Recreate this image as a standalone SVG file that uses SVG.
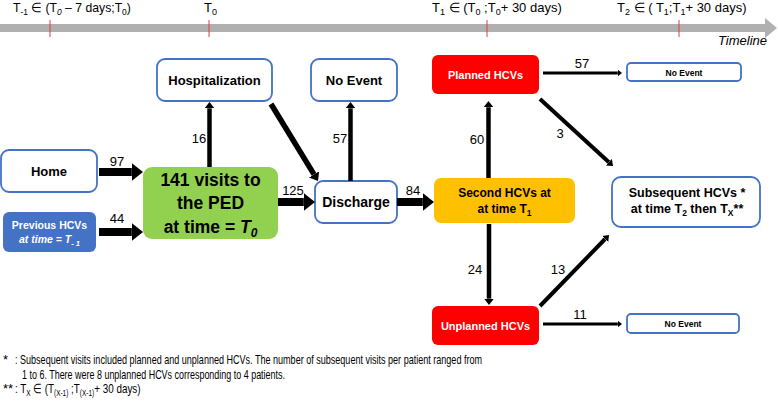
<svg xmlns="http://www.w3.org/2000/svg" width="778" height="410" viewBox="0 0 778 410">
<style>
text{font-family:"Liberation Sans",Arial,sans-serif;fill:#000}
.b{font-weight:bold}
.lbl{font-size:13px;text-anchor:middle}
.tl{font-size:13px}
.fn{font-size:13px}
.wn{fill:#fff;stroke:#4472c4;stroke-width:1.8}
.c{stroke:#000;fill:none}
.tick{stroke:#e03c3c;stroke-width:1}
.w{fill:#fff}
</style>
<defs>
<marker id="ah" viewBox="0 0 10 10" refX="0" refY="5" markerWidth="1.4" markerHeight="2.2" orient="auto" markerUnits="strokeWidth" preserveAspectRatio="none">
<path d="M0,0 L10,5 L0,10 Z" fill="#000"/>
</marker>
</defs>
<rect width="778" height="410" fill="#fff"/>
<!-- timeline -->
<g id="timeline">
<rect x="0" y="24" width="766" height="8" fill="#b0b0b0"/>
<polygon points="765,18 777,28 765,38" fill="#b0b0b0"/>
<line class="tick" x1="50" y1="20" x2="50" y2="37"/>
<line class="tick" x1="209" y1="20" x2="209" y2="37"/>
<line class="tick" x1="487" y1="20" x2="487" y2="37"/>
<line class="tick" x1="679" y1="20" x2="679" y2="37"/>
<text class="tl" transform="translate(13,12) scale(0.94,1)">T<tspan font-size="9" dy="3">-1</tspan><tspan dy="-3"> ∈ (T</tspan><tspan font-size="9" dy="3" font-style="italic">0</tspan><tspan dy="-3"> – 7 days;T</tspan><tspan font-size="9" dy="3">0</tspan><tspan dy="-3">)</tspan></text>
<text class="tl" x="204" y="12">T<tspan font-size="9" dy="3">0</tspan></text>
<text class="tl" x="432" y="12">T<tspan font-size="9" dy="3">1</tspan><tspan dy="-3"> ∈ (T</tspan><tspan font-size="9" dy="3">0</tspan><tspan dy="-3"> ;T</tspan><tspan font-size="9" dy="3">0</tspan><tspan dy="-3">+ 30 days)</tspan></text>
<text class="tl" x="617" y="12">T<tspan font-size="9" dy="3">2</tspan><tspan dy="-3"> ∈ ( T</tspan><tspan font-size="9" dy="3">1</tspan><tspan dy="-3">;T</tspan><tspan font-size="9" dy="3">1</tspan><tspan dy="-3">+ 30 days)</tspan></text>
<text class="tl" x="767" y="45" text-anchor="end" font-style="italic">Timeline</text>
</g>
<!-- nodes -->
<g id="home">
<rect class="wn" x="1" y="150" width="96" height="42" rx="8"/>
<text class="b" x="49" y="176" font-size="13" text-anchor="middle">Home</text>
</g>
<g id="previous">
<rect x="3" y="212" width="93" height="40" rx="6" fill="#4472c4"/>
<text class="b w" x="49.5" y="229" font-size="10.5" text-anchor="middle">Previous HCVs</text>
<text class="b w" x="49.5" y="243" font-size="10.5" text-anchor="middle" font-style="italic">at time = T<tspan font-size="7.5" dy="2.5">- 1</tspan></text>
</g>
<g id="ped">
<rect x="143" y="167" width="135" height="72" rx="9" fill="#92d050"/>
<text class="b" x="210.5" y="186" font-size="17.5" text-anchor="middle">141 visits to</text>
<text class="b" x="210.5" y="209" font-size="17.5" text-anchor="middle">the PED</text>
<text class="b" x="210.5" y="233" font-size="17.5" text-anchor="middle">at time = <tspan font-style="italic">T</tspan><tspan font-style="italic" font-size="12" dy="4">0</tspan></text>
</g>
<g id="hospitalization">
<rect class="wn" x="157" y="59" width="115" height="42" rx="8"/>
<text class="b" x="214.5" y="85" font-size="13" text-anchor="middle">Hospitalization</text>
</g>
<g id="noevent1">
<rect class="wn" x="311" y="59" width="86" height="42" rx="8"/>
<text class="b" x="354" y="85" font-size="13" text-anchor="middle">No Event</text>
</g>
<g id="discharge">
<rect class="wn" x="315" y="181" width="82" height="42" rx="8"/>
<text class="b" x="356" y="207" font-size="14" text-anchor="middle">Discharge</text>
</g>
<g id="second">
<rect x="434" y="178" width="141" height="45" rx="7" fill="#ffc000"/>
<text class="b" x="504.5" y="197" font-size="12" text-anchor="middle">Second HCVs at</text>
<text class="b" x="504.5" y="213" font-size="12" text-anchor="middle">at time T<tspan font-size="8.5" dy="3">1</tspan></text>
</g>
<g id="planned">
<rect x="432" y="55" width="107" height="39" rx="6" fill="#ff0000"/>
<text class="b w" x="485.5" y="79" font-size="11" text-anchor="middle">Planned HCVs</text>
</g>
<g id="unplanned">
<rect x="432" y="306" width="107" height="39" rx="6" fill="#ff0000"/>
<text class="b w" x="485.5" y="330" font-size="11" text-anchor="middle">Unplanned HCVs</text>
</g>
<g id="noevent2">
<rect class="wn" x="627" y="63" width="114" height="18" rx="4"/>
<text class="b" x="684" y="76" font-size="8.5" text-anchor="middle">No Event</text>
</g>
<g id="noevent3">
<rect class="wn" x="627" y="314" width="112" height="19" rx="4"/>
<text class="b" x="683" y="327" font-size="8.5" text-anchor="middle">No Event</text>
</g>
<g id="subsequent">
<rect class="wn" x="612" y="177" width="148" height="50" rx="9"/>
<text class="b" x="687" y="197" font-size="12.5" text-anchor="middle">Subsequent HCVs *</text>
<text class="b" x="687" y="213" font-size="12.5" text-anchor="middle">at time T<tspan font-size="8.5" dy="3">2</tspan><tspan dy="-3"> then T</tspan><tspan font-size="8.5" dy="3">X</tspan><tspan dy="-3">**</tspan></text>
</g>
<!-- connectors -->
<g id="connectors">
<line class="c" x1="99" y1="172" x2="131.8" y2="172" stroke-width="8" marker-end="url(#ah)"/>
<line class="c" x1="99" y1="232" x2="131.8" y2="232" stroke-width="8" marker-end="url(#ah)"/>
<line class="c" x1="209.5" y1="167" x2="209.5" y2="108.3" stroke-width="4.5" marker-end="url(#ah)"/>
<line class="c" x1="271" y1="104" x2="314" y2="174.4" stroke-width="5.5" marker-end="url(#ah)"/>
<line class="c" x1="278" y1="202" x2="303.8" y2="202" stroke-width="8" marker-end="url(#ah)"/>
<line class="c" x1="350.5" y1="181" x2="350.5" y2="108.3" stroke-width="4.5" marker-end="url(#ah)"/>
<line class="c" x1="397" y1="202" x2="422.8" y2="202" stroke-width="8" marker-end="url(#ah)"/>
<line class="c" x1="488.5" y1="178" x2="488.5" y2="107.3" stroke-width="4.5" marker-end="url(#ah)"/>
<line class="c" x1="489" y1="224" x2="489" y2="298.7" stroke-width="4.5" marker-end="url(#ah)"/>
<line class="c" x1="543" y1="73" x2="617.8" y2="73" stroke-width="3" marker-end="url(#ah)"/>
<line class="c" x1="540" y1="99" x2="608.9" y2="162.2" stroke-width="4" marker-end="url(#ah)"/>
<line class="c" x1="540" y1="306" x2="605.1" y2="239" stroke-width="4" marker-end="url(#ah)"/>
<line class="c" x1="543" y1="324" x2="617.8" y2="324" stroke-width="3" marker-end="url(#ah)"/>
<text class="lbl" x="117" y="166">97</text>
<text class="lbl" x="117" y="223">44</text>
<text class="lbl" x="199" y="143">16</text>
<text class="lbl" x="293" y="195">125</text>
<text class="lbl" x="340" y="143">57</text>
<text class="lbl" x="413" y="195">84</text>
<text class="lbl" x="477" y="144">60</text>
<text class="lbl" x="560" y="138">3</text>
<text class="lbl" x="582" y="68">57</text>
<text class="lbl" x="475" y="274">24</text>
<text class="lbl" x="558" y="274">13</text>
<text class="lbl" x="580" y="319">11</text>
</g>
<!-- footnotes -->
<g id="footnotes">
<text class="fn" x="3" y="364">*</text>
<text class="fn" x="15" y="364" textLength="467" lengthAdjust="spacingAndGlyphs">: Subsequent visits included planned and unplanned HCVs. The number of subsequent visits per patient ranged from</text>
<text class="fn" x="22" y="379" textLength="263" lengthAdjust="spacingAndGlyphs">1 to 6. There were 8 unplanned HCVs corresponding to 4 patients.</text>
<text class="fn" x="3" y="393">**</text>
<text class="fn" font-size="12.5" transform="translate(15,393) scale(0.76,1)">: T<tspan font-size="8.5" dy="2.5">X</tspan><tspan dy="-2.5"> ∈ (T</tspan><tspan font-size="8.5" dy="2.5">(X-1)</tspan><tspan dy="-2.5"> ;T</tspan><tspan font-size="8.5" dy="2.5">(X-1)</tspan><tspan dy="-2.5">+ 30 days)</tspan></text>
</g>
</svg>
